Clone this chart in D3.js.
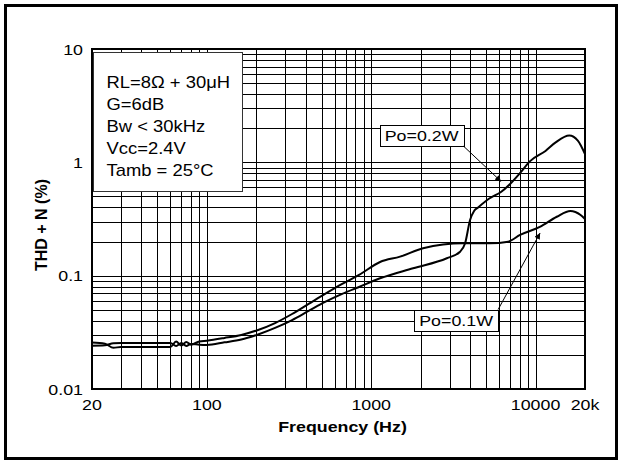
<!DOCTYPE html>
<html>
<head>
<meta charset="utf-8">
<script src="https://cdn.jsdelivr.net/npm/d3@7"></script>
<style>
    body { margin: 0; background: #fff; }
    #chart-area { width: 622px; height: 464px; }
    text { font-family: "Liberation Sans", Arial, Helvetica, sans-serif; fill: #000; }
</style>
</head>
<body>
<div id="chart-area"></div>
<script>

// Po = 0.1W curve (frequency in Hz, THD+N in %)
const freq01 = [20, 24, 27, 30, 60, 65, 70, 75, 80, 90, 100, 128, 162, 205, 260, 330, 416, 524, 666, 843,
    1132, 1498, 2068, 3624, 5290, 6810, 8054, 10618, 13470, 16290, 18800, 20000];
const thd01 = [0.0257, 0.0251, 0.0231, 0.0235, 0.0235, 0.0262, 0.0242, 0.0260, 0.0246, 0.0263, 0.0267, 0.0282,
    0.0300, 0.0332, 0.0382, 0.0459, 0.0563, 0.0690, 0.0845, 0.1014, 0.1321, 0.1472, 0.1745, 0.1932, 0.1932,
    0.1995, 0.2287, 0.2691, 0.3311, 0.3724, 0.3434, 0.3166];

// Po = 0.2W curve
const freq02 = [20, 24, 27, 30, 60, 65, 70, 75, 80, 90, 100, 128, 162, 205, 260, 330, 416, 524, 666, 843,
    1132, 1798, 2884, 3475, 3728, 3996, 4227, 4472, 5232, 6190, 7002, 8044, 9268, 11500, 13264, 16048, 18084, 20000];
const thd02 = [0.0241, 0.0243, 0.0253, 0.0254, 0.0254, 0.0240, 0.0254, 0.0240, 0.0250, 0.0246, 0.0245, 0.0258,
    0.0273, 0.0303, 0.0346, 0.0406, 0.0488, 0.0586, 0.0690, 0.0794, 0.0948, 0.1163, 0.1424, 0.1628, 0.1932,
    0.3101, 0.3724, 0.3999, 0.4793, 0.5502, 0.6448, 0.8044, 1.0247, 1.2606, 1.498, 1.721, 1.551, 1.18];

const xTickValues = [20, 100, 1000, 10000, 20000];
const xTickLabels = ["20", "100", "1000", "10000", "20k"];
const yTickValues = [0.01, 0.1, 1, 10];
const yTickLabels = ["0.01", "0.1", "1", "10"];

const legendLines = ["RL=8\u03A9 + 30\u03BCH", "G=6dB", "Bw < 30kHz", "Vcc=2.4V", "Tamb = 25\u00B0C"];

// callouts: label, box centre (Hz, %), arrow tip (Hz, %)
const calloutLabels = ["Po=0.2W", "Po=0.1W"];
const calloutBoxFreq = [2026, 3286];
const calloutBoxThd = [1.717, 0.0406];
const calloutTipFreq = [6172, 10660];
const calloutTipThd = [0.678, 0.238];


class thdChart {

    constructor(parentElement) {
        this.parentElement = parentElement;
        this.series = [
            freq01.map((f, i) => ({f: f, v: thd01[i]})),
            freq02.map((f, i) => ({f: f, v: thd02[i]}))
        ];
        this.initVis();
    }

    initVis() {
        let vis = this;

        vis.margin = {top: 49, right: 37, bottom: 75, left: 92};
        vis.width = 622 - vis.margin.left - vis.margin.right;
        vis.height = 464 - vis.margin.top - vis.margin.bottom;
        vis.sx = 1.15; // the scan is stretched sideways a bit

        vis.root = d3.select("#" + vis.parentElement).append("svg")
            .attr("width", 622)
            .attr("height", 464);

        // outer frame
        vis.root.append("rect")
            .attr("x", 5.5).attr("y", 5.5)
            .attr("width", 611).attr("height", 453)
            .attr("fill", "none")
            .attr("stroke", "#000")
            .attr("stroke-width", 3);

        vis.root.append("defs").append("marker")
            .attr("id", "arrow")
            .attr("viewBox", "0 0 10 10")
            .attr("refX", 10).attr("refY", 5)
            .attr("markerWidth", 9).attr("markerHeight", 6)
            .attr("markerUnits", "userSpaceOnUse")
            .attr("orient", "auto")
            .append("path")
            .attr("d", "M0,0 L10,5 L0,10 z")
            .attr("fill", "#000");

        vis.svg = vis.root.append("g")
            .attr("transform", `translate (${vis.margin.left}, ${vis.margin.top})`);

        vis.x = d3.scaleLog().domain([20, 20000]).range([0, vis.width]);
        vis.y = d3.scaleLog().domain([0.01, 10]).range([vis.height, 0]);

        vis.crisp = v => Math.round(v) + 0.5;

        // grid
        let xGrid = [];
        [10, 100, 1000, 10000].forEach(d => d3.range(1, 10).forEach(m => {
            if (m * d >= 20 && m * d <= 20000) xGrid.push(m * d);
        }));
        let yGrid = [];
        [0.01, 0.1, 1].forEach(d => d3.range(1, 10).forEach(m => yGrid.push(m * d)));
        yGrid.push(10);

        vis.svg.append("g").attr("class", "grid-x")
            .selectAll("line").data(xGrid).enter().append("line")
            .attr("x1", d => vis.crisp(vis.x(d))).attr("x2", d => vis.crisp(vis.x(d)))
            .attr("y1", 0).attr("y2", vis.height)
            .attr("stroke", "#000").attr("stroke-width", 1);

        vis.svg.append("g").attr("class", "grid-y")
            .selectAll("line").data(yGrid).enter().append("line")
            .attr("y1", d => vis.crisp(vis.y(d))).attr("y2", d => vis.crisp(vis.y(d)))
            .attr("x1", 0).attr("x2", vis.width)
            .attr("stroke", "#000").attr("stroke-width", 1);

        // plot frame
        vis.svg.append("rect")
            .attr("x", 0).attr("y", 0)
            .attr("width", vis.width).attr("height", vis.height)
            .attr("fill", "none")
            .attr("stroke", "#000")
            .attr("stroke-width", 2);

        // tick labels
        vis.svg.selectAll(".x-label").data(xTickValues).enter().append("text")
            .attr("class", "x-label")
            .attr("transform", d => `translate(${vis.x(d)}, ${vis.height + 21}) scale(${vis.sx},1)`)
            .attr("text-anchor", "middle")
            .attr("font-size", 15.5)
            .text((d, i) => xTickLabels[i]);

        vis.svg.selectAll(".y-label").data(yTickValues).enter().append("text")
            .attr("class", "y-label")
            .attr("transform", d => `translate(-9, ${vis.y(d) + 5.5}) scale(${vis.sx},1)`)
            .attr("text-anchor", "end")
            .attr("font-size", 15.5)
            .text((d, i) => yTickLabels[i]);

        // axis titles
        vis.svg.append("text")
            .attr("transform", `translate(${vis.width / 2 + 4}, ${vis.height + 43}) scale(${vis.sx},1)`)
            .attr("text-anchor", "middle")
            .attr("font-size", 15.5)
            .attr("font-weight", "bold")
            .text("Frequency (Hz)");

        vis.svg.append("text")
            .attr("transform", `translate(-45, ${vis.height / 2 + 6}) rotate(-90)`)
            .attr("text-anchor", "middle")
            .attr("font-size", 16)
            .attr("font-weight", "bold")
            .text("THD + N (%)");

        // legend box with test conditions
        let legend = vis.svg.append("g").attr("transform", "translate(1.5, 3.5)");
        legend.append("rect")
            .attr("width", 149).attr("height", 139)
            .attr("fill", "#fff")
            .attr("stroke", "#333")
            .attr("stroke-width", 1);
        legend.selectAll("text").data(legendLines).enter().append("text")
            .attr("transform", (d, i) => `translate(13, ${35 + i * 22}) scale(${vis.sx},1)`)
            .attr("font-size", 16)
            .text(d => d);

        this.wrangleData();
    }

    wrangleData() {
        let vis = this;
        this.updateVis();
    }

    updateVis() {
        let vis = this;

        let line = d3.line()
            .x(d => vis.x(d.f))
            .y(d => vis.y(d.v))
            .curve(d3.curveMonotoneX);

        vis.svg.selectAll(".curve").data(vis.series).enter().append("path")
            .attr("class", "curve")
            .attr("d", line)
            .attr("fill", "none")
            .attr("stroke", "#000")
            .attr("stroke-width", 2)
            .attr("stroke-linejoin", "round");

        // callouts
        calloutLabels.forEach((lab, i) => {
            let cx = vis.x(calloutBoxFreq[i]);
            let cy = vis.y(calloutBoxThd[i]);
            let g = vis.svg.append("g");
            let box = g.append("rect");
            let t = g.append("text")
                .attr("transform", `translate(${cx}, ${cy + 5.5}) scale(${vis.sx},1)`)
                .attr("text-anchor", "middle")
                .attr("font-size", 15.5)
                .text(lab);
            let w = t.node().getBBox().width * vis.sx + 10;
            let h = 21;
            box.attr("x", Math.round(cx - w / 2) + 0.5).attr("y", Math.round(cy - h / 2) + 0.5)
                .attr("width", Math.round(w)).attr("height", h)
                .attr("fill", "#fff").attr("stroke", "#000").attr("stroke-width", 1);

            // first arrow leaves from the lower right corner, second from the upper right
            let sx = cx + w / 2;
            let sy = i === 0 ? cy + h / 2 : cy - h / 2;
            g.append("line")
                .attr("x1", sx).attr("y1", sy)
                .attr("x2", vis.x(calloutTipFreq[i])).attr("y2", vis.y(calloutTipThd[i]))
                .attr("stroke", "#000").attr("stroke-width", 1)
                .attr("marker-end", "url(#arrow)");
        });
    }
}

new thdChart("chart-area");
</script>
</body>
</html>
